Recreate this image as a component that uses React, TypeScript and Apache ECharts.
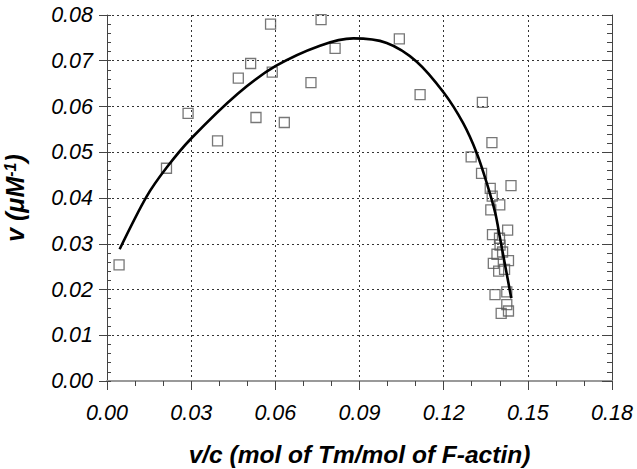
import React, { useEffect, useRef } from "react";
import * as echarts from "echarts";

// Experimental points (v/c, v)
const pointX: number[] = [
  0.0043, 0.0212, 0.0289, 0.0394, 0.0468, 0.0512, 0.0531, 0.0583, 0.0589, 0.0632,
  0.0727, 0.0763, 0.0813, 0.1042, 0.1116, 0.1338, 0.1372, 0.1298, 0.1335, 0.144,
  0.1366, 0.1373, 0.14, 0.1368, 0.1428, 0.1374, 0.1399, 0.1401, 0.139, 0.141,
  0.1377, 0.1431, 0.1396, 0.1417, 0.1383, 0.1425, 0.1425, 0.1405, 0.1431,
];
const pointY: number[] = [
  0.0254, 0.0465, 0.0585, 0.0525, 0.0662, 0.0694, 0.0576, 0.078, 0.0675, 0.0565,
  0.0652, 0.079, 0.0727, 0.0748, 0.0626, 0.0609, 0.0521, 0.049, 0.0454, 0.0427,
  0.0421, 0.0404, 0.0385, 0.0374, 0.033, 0.032, 0.0312, 0.0297, 0.0277, 0.0282,
  0.0257, 0.0263, 0.024, 0.0244, 0.0189, 0.0195, 0.0167, 0.0148, 0.0153,
];

// Fitted curve
const curveX: number[] = [
  0.0045, 0.0141, 0.0212, 0.03, 0.0466, 0.06, 0.0759, 0.0878, 0.0997,
  0.1104, 0.1202, 0.127, 0.1318, 0.1354, 0.1384, 0.1401, 0.1441,
];
const curveY: number[] = [
  0.0288, 0.0403, 0.0466, 0.053, 0.0628, 0.0688, 0.0733, 0.0749, 0.0739,
  0.0698, 0.0629, 0.0563, 0.0498, 0.0432, 0.0367, 0.0312, 0.0181,
];

const xMin = 0;
const xMax = 0.18;
const xStep = 0.03;
const yMin = 0;
const yMax = 0.08;
const yStep = 0.01;

const xTitle = "v/c (mol of Tm/mol of F-actin)";

const FONT = "Liberation Sans";

export default function App() {
  const ref = useRef<HTMLDivElement>(null);

  useEffect(() => {
    if (!ref.current) return;
    const chart = echarts.init(ref.current, undefined, { renderer: "svg" });

    const tickLabel = {
      fontFamily: FONT,
      fontStyle: "italic" as const,
      fontSize: 21.5,
      color: "#000",
    };

    const option: any = {
      animation: false,
      backgroundColor: "#fff",
      grid: {
        left: 107,
        right: 25,
        top: 15,
        bottom: 88,
        containLabel: false,
        outerBoundsMode: "none",
      },
      xAxis: [
        {
          type: "value",
          position: "bottom",
          min: xMin,
          max: xMax,
          interval: xStep,
          name: xTitle,
          nameLocation: "middle",
          nameGap: 61,
          nameTextStyle: {
            fontFamily: FONT,
            fontStyle: "italic",
            fontWeight: "bold",
            fontSize: 24.5,
            color: "#000",
          },
          axisLine: { show: true, lineStyle: { color: "#444", width: 1 } },
          axisTick: { show: true, inside: false, length: 9, lineStyle: { color: "#444" } },
          minorTick: { show: true, splitNumber: 3, length: 5, lineStyle: { color: "#444" } },
          axisLabel: {
            ...tickLabel,
            margin: 21,
            formatter: (v: number) => v.toFixed(2),
          },
          splitLine: {
            show: true,
            lineStyle: { color: "#333", width: 1, type: [2, 3] },
          },
        },
        {
          type: "value",
          position: "top",
          min: xMin,
          max: xMax,
          interval: xStep,
          axisLine: { show: true, lineStyle: { color: "#999", width: 2 } },
          axisTick: { show: true, inside: true, length: 4, lineStyle: { color: "#444" } },
          minorTick: { show: true, splitNumber: 3, length: 4, lineStyle: { color: "#444" } },
          axisLabel: { show: false },
          splitLine: { show: false },
        },
      ],
      yAxis: [
        {
          type: "value",
          position: "left",
          min: yMin,
          max: yMax,
          interval: yStep,
          name: "{a|v (μM}{b|-1}{a|)}",
          nameLocation: "middle",
          nameGap: 80,
          nameRotate: 90,
          nameTextStyle: {
            rich: {
              a: {
                fontFamily: FONT,
                fontStyle: "italic",
                fontWeight: "bold",
                fontSize: 25,
                color: "#000",
              },
              b: {
                fontFamily: FONT,
                fontStyle: "italic",
                fontWeight: "bold",
                fontSize: 16,
                color: "#000",
                verticalAlign: "top",
              },
            },
          },
          axisLine: { show: true, lineStyle: { color: "#444", width: 1 } },
          axisTick: { show: true, inside: false, length: 8, lineStyle: { color: "#444" } },
          minorTick: { show: false },
          axisLabel: {
            ...tickLabel,
            margin: 14,
            formatter: (v: number) => v.toFixed(2),
          },
          splitLine: {
            show: true,
            lineStyle: { color: "#333", width: 1, type: [2, 3] },
          },
        },
        {
          type: "value",
          position: "left",
          min: yMin,
          max: yMax,
          interval: yStep,
          axisLine: { show: false },
          axisTick: { show: true, inside: true, length: 4, lineStyle: { color: "#444" } },
          minorTick: { show: true, splitNumber: 5, length: 4, lineStyle: { color: "#444" } },
          axisLabel: { show: false },
          splitLine: { show: false },
        },
        {
          type: "value",
          position: "right",
          min: yMin,
          max: yMax,
          interval: yStep,
          axisLine: { show: true, lineStyle: { color: "#444", width: 1 } },
          axisTick: { show: true, inside: true, length: 10, lineStyle: { color: "#444" } },
          minorTick: { show: true, splitNumber: 5, length: 5, lineStyle: { color: "#444" } },
          axisLabel: { show: false },
          splitLine: { show: false },
        },
      ],
      series: [
        {
          type: "scatter",
          xAxisIndex: 0,
          yAxisIndex: 0,
          symbol: "rect",
          symbolSize: 10,
          itemStyle: {
            color: "rgba(0,0,0,0)",
            borderColor: "#555",
            borderWidth: 1.3,
          },
          data: pointX.map((x, i) => [x, pointY[i]]),
          z: 2,
        },
        {
          type: "line",
          xAxisIndex: 0,
          yAxisIndex: 0,
          smooth: 0.3,
          showSymbol: false,
          symbol: "none",
          lineStyle: { color: "#000", width: 2.6 },
          data: curveX.map((x, i) => [x, curveY[i]]),
          z: 3,
        },
      ],
    };

    chart.setOption(option);
    return () => chart.dispose();
  }, []);

  return (
    <div
      ref={ref}
      style={{ position: "fixed", left: 0, top: 0, width: 637, height: 469, background: "#fff" }}
    />
  );
}
